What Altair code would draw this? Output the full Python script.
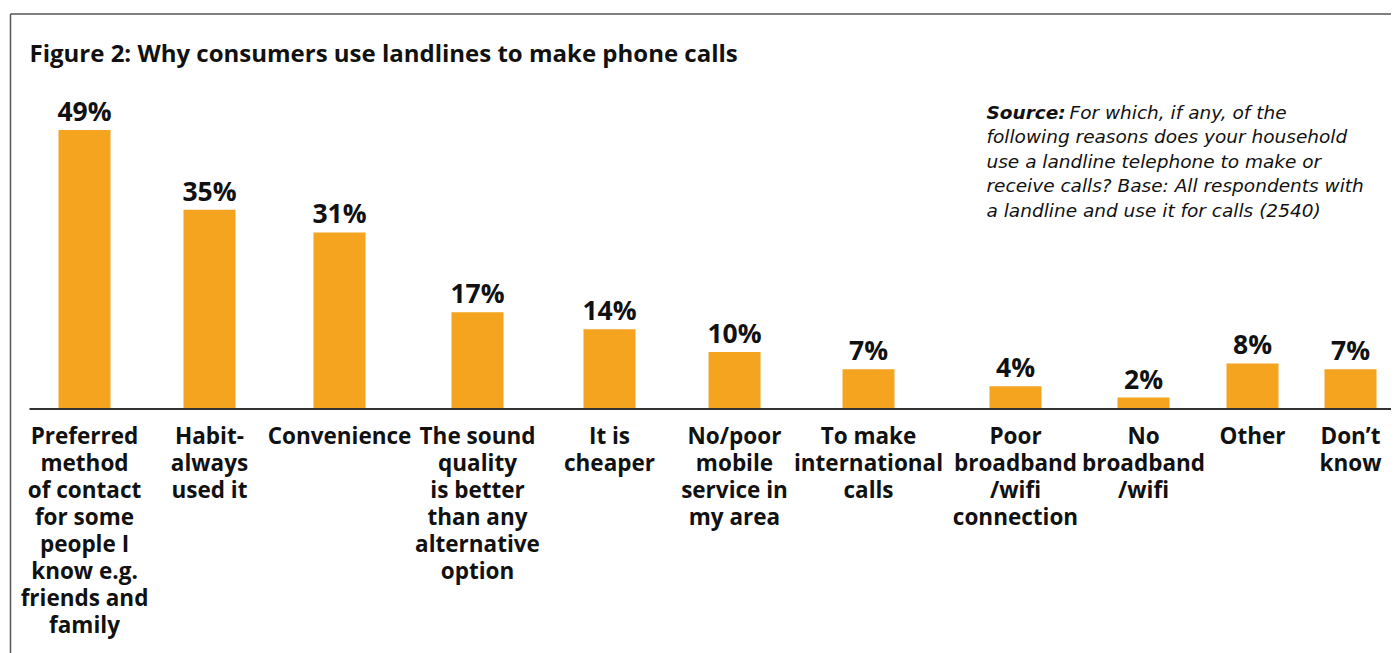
import altair as alt
import pandas as pd

# ---- data ----
labels = [
    "Preferred|method|of contact|for some|people I|know e.g.|friends and|family",
    "Habit-|always|used it",
    "Convenience",
    "The sound|quality|is better|than any|alternative|option",
    "It is|cheaper",
    "No/poor|mobile|service in|my area",
    "To make|international|calls",
    "Poor|broadband|/wifi|connection",
    "No|broadband|/wifi",
    "Other",
    "Don\u2019t|know",
]
values = [49, 35, 31, 17, 14, 10, 7, 4, 2, 8, 7]

title_text = "Figure 2: Why consumers use landlines to make phone calls"
source_bold = "Source:"
source_line1 = "For which, if any, of the"
source_rest = ("following reasons does your household|use a landline telephone to make or|"
               "receive calls? Base: All respondents with|a landline and use it for calls (2540)")

# ---- layout / style ----
col_widths = [125, 125, 135, 141, 123, 127, 141, 153, 103, 115, 81]
PANEL_H = 328
Y_MAX = 57.6
BAR_COLOR = "#F4A41E"
FONT = "Open Sans"
SRC_FONT = "DejaVu Sans"

yscale = alt.Scale(domain=[0, Y_MAX], nice=False, zero=True)

panels = []
for i, (lab, val) in enumerate(zip(labels, values)):
    df = pd.DataFrame({"cat": [str(i)], "label": [lab], "value": [val]})
    raw = alt.Chart(df)
    base = raw.encode(
        x=alt.X("cat:N", axis=None, scale=alt.Scale(paddingInner=0, paddingOuter=0))
    )
    bar = base.mark_bar(size=52, color=BAR_COLOR).encode(
        y=alt.Y("value:Q", scale=yscale, axis=None)
    )
    vlab = base.transform_calculate(txt="datum.value + '%'").mark_text(
        font=FONT, fontWeight="bold", fontSize=26.5, color="#111",
        baseline="alphabetic", dy=-9
    ).encode(y=alt.Y("value:Q", scale=yscale, axis=None), text="txt:N")
    clab = base.mark_text(
        font=FONT, fontWeight="bold", fontSize=22.5, color="#111",
        baseline="top", align="center", lineBreak="|", lineHeight=27, dy=17
    ).encode(y=alt.datum(0, scale=yscale), text="label:N")
    x_start = 7.5 if i == 0 else 0
    rule = raw.mark_rule(color="#333", strokeWidth=2).encode(
        y=alt.datum(0, scale=yscale), x=alt.value(x_start), x2=alt.value(col_widths[i]))
    layers = [bar, vlab, clab, rule]
    if i == 0:
        frame_v = raw.mark_rule(color="#555", strokeWidth=1.5).encode(
            x=alt.value(-11.5), y=alt.value(-67), y2=alt.value(572))
        frame_h = raw.mark_rule(color="#555", strokeWidth=1.5).encode(
            x=alt.value(-11.5), x2=alt.value(1369), y=alt.value(-67))
        ttl = raw.mark_text(
            text=title_text, font=FONT, fontWeight="bold", fontSize=24, color="#111",
            align="left", baseline="alphabetic"
        ).encode(x=alt.value(7.5), y=alt.value(-19))
        s_b = raw.mark_text(
            text=source_bold, font=SRC_FONT, fontWeight="bold", fontStyle="italic",
            fontSize=18.5, color="#111", align="left", baseline="alphabetic"
        ).encode(x=alt.value(964.5), y=alt.value(38))
        s_1 = raw.mark_text(
            text=source_line1, font=SRC_FONT, fontStyle="italic",
            fontSize=18.5, color="#111", align="left", baseline="alphabetic"
        ).encode(x=alt.value(1047.5), y=alt.value(38))
        s_r = raw.mark_text(
            text=source_rest, font=SRC_FONT, fontStyle="italic", lineBreak="|", lineHeight=24.4,
            fontSize=18.5, color="#111", align="left", baseline="alphabetic"
        ).encode(x=alt.value(964.5), y=alt.value(62.4))
        layers += [frame_v, frame_h, ttl, s_b, s_1, s_r]
    panels.append(alt.layer(*layers).properties(width=col_widths[i], height=PANEL_H))

chart = (
    alt.hconcat(*panels, spacing=0, bounds="flush")
    .resolve_scale(x="independent")
    .properties(padding={"left": 9, "top": 13, "right": 0, "bottom": 0}, background="white")
    .configure_view(stroke=None)
)

chart.save("out.html", embed_options={"renderer": "svg", "actions": False})
